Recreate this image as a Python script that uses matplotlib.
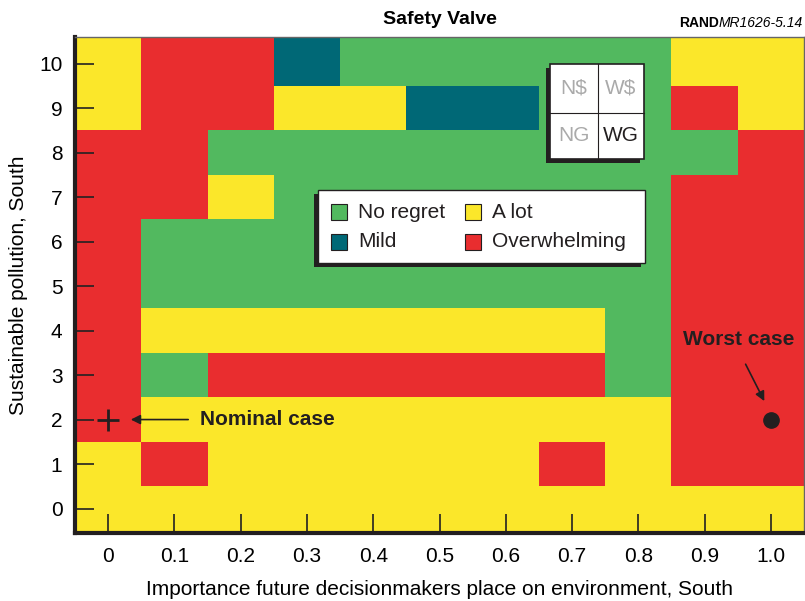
import numpy as np
import matplotlib
matplotlib.use("Agg")
import matplotlib.pyplot as plt
from matplotlib.colors import ListedColormap
from matplotlib.patches import Rectangle

plt.rcParams['font.family'] = ['Liberation Sans', 'DejaVu Sans']

# ---- data ----
x_values = [0.0, 0.1, 0.2, 0.3, 0.4, 0.5, 0.6, 0.7, 0.8, 0.9, 1.0]
y_values = [0, 1, 2, 3, 4, 5, 6, 7, 8, 9, 10]
x_ticklabels = ["0", "0.1", "0.2", "0.3", "0.4", "0.5", "0.6", "0.7", "0.8", "0.9", "1.0"]
categories = ["No regret", "Mild", "A lot", "Overwhelming"]
cat_colors = ["#52B95F", "#006876", "#FBE72A", "#E92D2F"]
G, M, Y, R = 0, 1, 2, 3
# regret category per (y row, x column); row index = sustainable pollution value
regret_grid = [
    [Y, Y, Y, Y, Y, Y, Y, Y, Y, Y, Y],  # 0
    [Y, R, Y, Y, Y, Y, Y, R, Y, R, R],  # 1
    [R, Y, Y, Y, Y, Y, Y, Y, Y, R, R],  # 2
    [R, G, R, R, R, R, R, R, G, R, R],  # 3
    [R, Y, Y, Y, Y, Y, Y, Y, G, R, R],  # 4
    [R, G, G, G, G, G, G, G, G, R, R],  # 5
    [R, G, G, G, G, G, G, G, G, R, R],  # 6
    [R, R, Y, G, G, G, G, G, G, R, R],  # 7
    [R, R, G, G, G, G, G, G, G, G, R],  # 8
    [Y, R, R, Y, Y, M, M, G, G, R, Y],  # 9
    [Y, R, R, M, G, G, G, G, G, Y, Y],  # 10
]
nominal_case = (0.0, 2)
worst_case = (1.0, 2)

# ---- figure ----
fig = plt.figure(figsize=(8.05, 6.01), dpi=100)
ax = fig.add_axes([75/805, 68/601, 729/805, 496/601])

x_edges = [-0.05] + [v + 0.05 for v in x_values]
y_edges = [-0.55] + [v + 0.5 for v in y_values[:-1]] + [10.6]
cmap = ListedColormap(cat_colors)
ax.pcolormesh(x_edges, y_edges, np.array(regret_grid), cmap=cmap, vmin=-0.5, vmax=3.5,
              shading='flat', zorder=1)
ax.set_xlim(-0.05, 1.05)
ax.set_ylim(-0.55, 10.6)

ax.set_xticks(x_values)
ax.set_xticklabels(x_ticklabels)
ax.set_yticks(y_values)
ax.tick_params(direction='in', length=14, width=1.2, labelsize=15, color='#222222', pad=9)
ax.tick_params(axis='x', pad=10)
for s in ['left', 'bottom']:
    ax.spines[s].set_linewidth(3)
    ax.spines[s].set_color('#231f20')
for s in ['top', 'right']:
    ax.spines[s].set_linewidth(1)
    ax.spines[s].set_color('#666666')
for s in ax.spines.values():
    s.set_zorder(5)

ax.set_xlabel("Importance future decisionmakers place on environment, South", fontsize=15, labelpad=10)
ax.set_ylabel("Sustainable pollution, South", fontsize=15, labelpad=8)
ax.set_title("Safety Valve", fontsize=14, fontweight='bold', pad=9)

mr = fig.text(803/805, 1 - 30/601, "MR1626-5.14", fontsize=10, style='italic',
              va='bottom', ha='right')
ax.annotate("RAND", xy=(0, 0), xycoords=mr, fontsize=10, fontweight='bold',
            va='bottom', ha='right', annotation_clip=False)

# annotations
ax.plot(*nominal_case, marker='+', markersize=16, mew=2, color='#231f20', zorder=6)
ax.annotate("", xy=(nominal_case[0] + 0.03, nominal_case[1]),
            xytext=(nominal_case[0] + 0.125, nominal_case[1]),
            arrowprops=dict(arrowstyle='-|>', color='#231f20', lw=1.2, mutation_scale=14),
            zorder=6)
ax.text(nominal_case[0] + 0.139, nominal_case[1], "Nominal case", fontsize=15, fontweight='bold',
        va='center', ha='left', color='#231f20', zorder=6)

ax.plot(*worst_case, marker='o', markersize=11, color='#231f20', zorder=6)
ax.annotate("", xy=(worst_case[0] - 0.008, worst_case[1] + 0.36),
            xytext=(worst_case[0] - 0.04, worst_case[1] + 1.3),
            arrowprops=dict(arrowstyle='-|>', color='#231f20', lw=1.2, mutation_scale=14),
            zorder=6)
ax.text(worst_case[0] - 0.048, worst_case[1] + 1.8, "Worst case", fontsize=15, fontweight='bold',
        va='center', ha='center', color='#231f20', zorder=6)

# ---- legend box (manual, shadow down-left) ----
T = ax.transAxes
pxw, pxh = 1/729, 1/496
lx0, lx1, ly0, ly1 = 0.333, 0.782, 0.544, 0.692
ax.add_patch(Rectangle((lx0 - 4*pxw, ly0 - 4*pxh), lx1 - lx0, ly1 - ly0, transform=T,
                       facecolor='#231f20', edgecolor='none', zorder=7))
ax.add_patch(Rectangle((lx0, ly0), lx1 - lx0, ly1 - ly0, transform=T,
                       facecolor='white', edgecolor='#231f20', lw=1, zorder=8))
leg_pos = {"No regret": (0.351, 0.647), "A lot": (0.535, 0.647),
           "Mild": (0.351, 0.587), "Overwhelming": (0.535, 0.587)}
for cat, col in zip(categories, cat_colors):
    sx, sy = leg_pos[cat]
    ax.add_patch(Rectangle((sx, sy - 8*pxh), 16*pxw, 16*pxh, transform=T,
                           facecolor=col, edgecolor='#231f20', lw=0.8, zorder=9))
    ax.text(sx + 27*pxw, sy, cat, transform=T, fontsize=15, va='center', ha='left',
            color='#231f20', zorder=9)

# ---- inset quadrant box ----
bx0, bx1, by0, by1 = 0.652, 0.780, 0.754, 0.946
bxm, bym = 0.717, 0.847
ax.add_patch(Rectangle((bx0 - 4*pxw, by0 - 4*pxh), bx1 - bx0, by1 - by0, transform=T,
                       facecolor='#231f20', edgecolor='none', zorder=7))
ax.add_patch(Rectangle((bx0, by0), bx1 - bx0, by1 - by0, transform=T,
                       facecolor='white', edgecolor='#231f20', lw=1.2, zorder=8))
ax.plot([bxm, bxm], [by0, by1], transform=T, color='#231f20', lw=0.8, zorder=9)
ax.plot([bx0, bx1], [bym, bym], transform=T, color='#231f20', lw=0.8, zorder=9)
quad_labels = [("N$", '#aaaaaa'), ("W$", '#aaaaaa'), ("NG", '#aaaaaa'), ("WG", '#231f20')]
quad_pos = [((bx0 + bxm)/2, (bym + by1)/2), ((bxm + bx1)/2, (bym + by1)/2),
            ((bx0 + bxm)/2, (by0 + bym)/2), ((bxm + bx1)/2, (by0 + bym)/2)]
for (lab, c), (qx, qy) in zip(quad_labels, quad_pos):
    ax.text(qx, qy, lab, transform=T, fontsize=15, color=c, va='center', ha='center', zorder=9)

fig.savefig("out.png", dpi=100)
